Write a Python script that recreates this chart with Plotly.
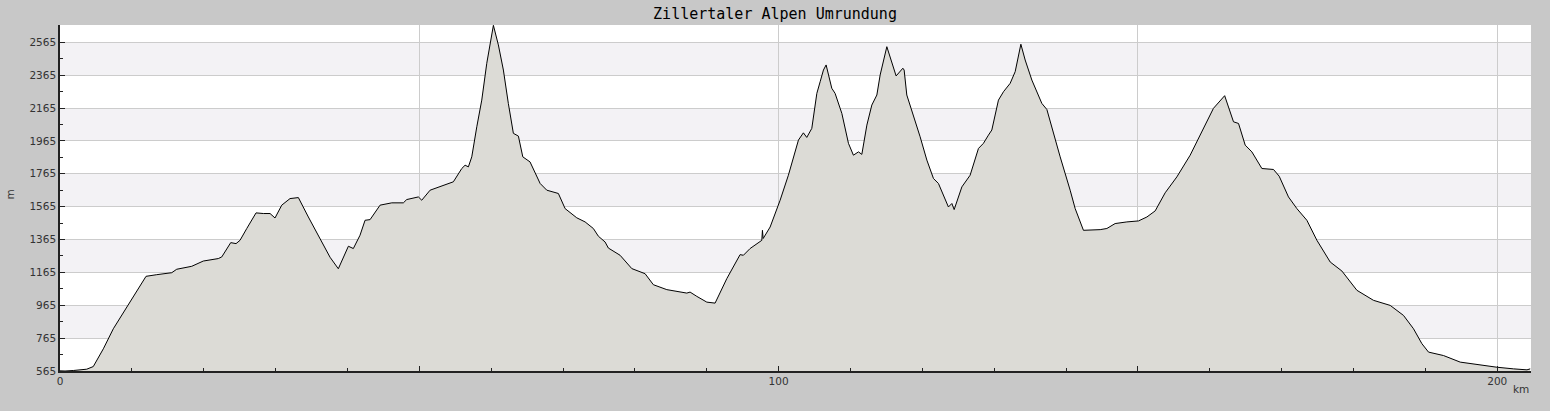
import plotly.graph_objects as go

# Distance (km) and elevation (m)
distance_km = [0.0, 0.70, 1.85, 2.78, 3.72, 4.63, 6.03, 7.42, 9.28, 10.68, 11.97, 13.46, 15.55, 16.24, 17.40, 18.33,
               19.94, 22.03, 22.51, 23.76, 24.50, 25.05, 25.99, 27.28, 28.30, 29.23, 29.92, 30.86, 32.01, 33.17,
               34.56, 36.19, 37.58, 38.73, 40.13, 40.82, 41.75, 42.45, 43.15, 44.54, 46.17, 47.78, 48.25, 49.87,
               50.34, 51.50, 53.35, 54.74, 55.91, 56.37, 56.83, 57.30, 58.00, 58.69, 59.39, 60.31, 61.00, 61.70,
               62.39, 63.09, 63.79, 64.40, 65.41, 66.81, 67.74, 69.35, 70.29, 71.91, 73.07, 74.22, 74.92, 75.85,
               76.31, 77.94, 79.57, 81.42, 82.57, 84.44, 87.22, 87.68, 88.62, 90.01, 91.16, 92.79, 94.64, 95.10,
               96.03, 97.66, 97.75, 97.85, 98.82, 100.21, 101.36, 102.76, 103.45, 103.92, 104.62, 105.32, 105.78,
               106.24, 106.61, 107.40, 107.86, 108.80, 109.72, 110.41, 111.11, 111.58, 112.28, 112.97, 113.67,
               114.13, 115.06, 115.76, 116.35, 117.29, 117.47, 117.84, 118.54, 119.69, 120.63, 121.55, 122.24,
               123.18, 123.63, 124.11, 124.43, 125.50, 126.65, 127.81, 128.50, 129.20, 129.67, 130.59, 131.29,
               132.22, 132.92, 133.71, 134.31, 135.24, 136.63, 137.33, 138.25, 139.18, 140.57, 141.27, 142.42,
               144.75, 145.68, 146.83, 148.46, 150.08, 151.25, 152.40, 153.79, 155.42, 157.27, 159.12, 160.51,
               162.07, 162.60, 163.30, 164.00, 164.93, 165.86, 167.25, 168.87, 169.66, 170.95, 172.12, 173.51,
               174.91, 176.76, 178.39, 180.47, 182.78, 185.11, 186.96, 188.35, 189.52, 190.44, 192.53, 194.85,
               197.18, 199.96, 202.27, 204.14, 204.59]
elevation_m = [566, 565, 568, 572, 576, 592, 700, 822, 954, 1056, 1141, 1151, 1163, 1184, 1194, 1202,
               1234, 1249, 1259, 1346, 1340, 1360, 1432, 1527, 1523, 1523, 1496, 1574, 1614, 1620,
               1502, 1371, 1257, 1187, 1324, 1310, 1391, 1482, 1486, 1574, 1588, 1588, 1608, 1624,
               1604, 1665, 1695, 1716, 1797, 1817, 1807, 1868, 2051, 2213, 2437, 2668, 2549, 2396,
               2193, 2011, 1994, 1868, 1837, 1706, 1665, 1645, 1553, 1497, 1472, 1432, 1385, 1350,
               1313, 1269, 1188, 1157, 1090, 1060, 1039, 1045, 1019, 984, 978, 1127, 1273, 1269,
               1310, 1360, 1421, 1371, 1441, 1604, 1756, 1970, 2014, 1986, 2041, 2254, 2325,
               2396, 2427, 2285, 2254, 2132, 1950, 1878, 1898, 1883, 2061, 2183, 2244,
               2366, 2538, 2447, 2360, 2407, 2396, 2244, 2152, 1990, 1848, 1736, 1706,
               1604, 1563, 1584, 1547, 1685, 1756, 1919, 1950, 2000, 2031, 2213, 2264,
               2315, 2386, 2553, 2457, 2335, 2193, 2156, 2011, 1868, 1665, 1553, 1421,
               1425, 1432, 1462, 1472, 1478, 1502, 1539, 1649, 1746, 1878, 2041, 2163,
               2240, 2173, 2081, 2071, 1939, 1898, 1797, 1791, 1750, 1624, 1553, 1482,
               1360, 1228, 1173, 1056, 995, 964, 903, 822, 731, 680, 659, 619,
               603, 588, 578, 572, 578]

title_text = "Zillertaler Alpen Umrundung"
y_ticks = [565, 765, 965, 1165, 1365, 1565, 1765, 1965, 2165, 2365, 2565]
x_ticks = [0, 50, 100, 150, 200]
x_tick_text = ["0", "", "100", "", "200"]
y_range = [565, 2670]
x_range = [0, 204.7]

fig = go.Figure()
fig.add_trace(go.Scatter(
    x=distance_km, y=elevation_m, mode="lines",
    line=dict(color="black", width=1),
    fill="tozeroy", fillcolor="#dcdbd6",
    hoverinfo="x+y", showlegend=False,
))

# alternating horizontal bands
shapes = []
for lo in y_ticks[1::2]:
    shapes.append(dict(type="rect", xref="paper", yref="y", x0=0, x1=1, y0=lo, y1=lo + 200,
                       fillcolor="#f3f2f5", line=dict(width=0), layer="below"))
fig.update_layout(shapes=shapes)

fig.update_layout(
    width=1550, height=411,
    margin=dict(l=60, r=19, t=25, b=40),
    paper_bgcolor="#c8c8c8", plot_bgcolor="white",
    title=dict(text=title_text, x=0.5, xanchor="center", y=1 - 14 / 411, yanchor="middle",
               yref="container", font=dict(family="DejaVu Sans Mono", size=15, color="black")),
    font=dict(family="DejaVu Sans", size=10.5, color="#333333"),
    xaxis=dict(range=x_range, tickmode="array", tickvals=x_ticks, ticktext=x_tick_text,
               ticks="inside", ticklen=5, tickcolor="#222", showline=True, linecolor="#222",
               linewidth=1.5, showgrid=True, gridcolor="#cccccc", gridwidth=1, zeroline=False,
               minor=dict(tickmode="linear", tick0=0, dtick=10, ticks="inside", ticklen=3,
                          tickcolor="#222", showgrid=False),
               fixedrange=True, layer="above traces"),
    yaxis=dict(range=y_range, tickmode="array", tickvals=y_ticks,
               ticks="inside", ticklen=5, tickcolor="#222", showline=True, linecolor="#222",
               linewidth=1.5, showgrid=True, gridcolor="#cccccc", gridwidth=1, zeroline=False,
               minor=dict(tickmode="linear", tick0=565, dtick=100, ticks="inside", ticklen=3,
                          tickcolor="#222", showgrid=False),
               fixedrange=True, layer="above traces"),
    annotations=[
        dict(text="m", xref="paper", yref="paper", x=(10 - 60) / 1471, y=0.51, showarrow=False,
             textangle=-90, font=dict(size=10.5, color="#333333"), xanchor="center", yanchor="middle"),
        dict(text="km", xref="paper", yref="paper", x=(1521 - 60) / 1471, y=(371 - 389) / 346,
             showarrow=False, font=dict(size=10.5, color="#333333"), xanchor="center", yanchor="middle"),
    ],
)

fig.write_html(
    "out.html",
    config={"displayModeBar": False},
    post_script="document.body.style.margin='0';document.body.style.background='#c8c8c8';",
)
